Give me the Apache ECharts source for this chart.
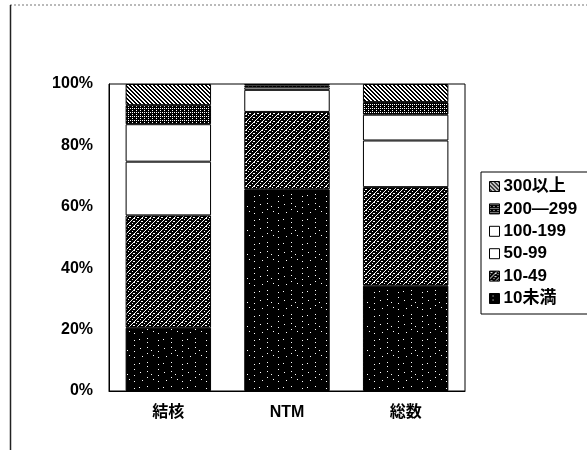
<!DOCTYPE html>
<html>
<head>
<meta charset="utf-8">
<script src="https://cdn.jsdelivr.net/npm/echarts@6/dist/echarts.min.js"></script>
<style>
  html, body { margin: 0; padding: 0; background: #fff; }
  #chart { width: 587px; height: 450px; }
</style>
</head>
<body>
<div id="chart"></div>
<script>
// Categories along the x axis
const categories = ['結核', 'NTM', '総数'];

// Share (%) of each size class, stacked bottom to top
const seriesNames = ['10未満', '10-49', '50-99', '100-199', '200-299', '300以上'];
const share10under  = [20.6, 65.7, 34.3];
const share10to49   = [36.6, 25.2, 32.1];
const share50to99   = [17.5,  7.2, 15.2];
const share100to199 = [12.2,  0.8,  8.4];
const share200to299 = [ 6.2,  0.6,  4.1];
const share300over  = [ 6.9,  0.5,  5.9];
const seriesValues = [share10under, share10to49, share50to99, share100to199, share200to299, share300over];

// Legend order, top to bottom, and the label drawn for each entry
const legendOrder = ['300以上', '200-299', '100-199', '50-99', '10-49', '10未満'];
const legendText = { '10-49': '10‐49', '50-99': '50‐99', '100-199': '100‐199', '200-299': '200—299' };

// Monochrome fill patterns built on small canvases
function pattern(size, bg, whitePixels, draw) {
  const c = document.createElement('canvas');
  c.width = size; c.height = size;
  const g = c.getContext('2d');
  g.fillStyle = bg; g.fillRect(0, 0, size, size);
  g.fillStyle = '#fff';
  (whitePixels || []).forEach(([x, y]) => g.fillRect(x, y, 1, 1));
  if (draw) draw(g, size);
  return { image: c, repeat: 'repeat' };
}

const fillDark = pattern(24, '#000', [[3,2],[3,6],[3,11],[3,17],[14,4],[14,9],[14,15],[14,21],[9,19],[20,12],[7,14],[19,3],[22,20]]);
const fillMottled = (function () {
  const px = [];
  for (let i = 0; i < 8; i++) { px.push([i, 7 - i]); }
  for (let i = 0; i < 8; i += 2) { px.push([i, (11 - i) % 8]); }
  px.push([1,1],[5,5],[6,2]);
  return pattern(8, '#000', px);
})();
const fillWhite = '#fff';
const fillGrid = pattern(4, '#000', [[0,0],[2,0],[0,2]]);
const fillHatch = pattern(4, '#fff', [], function (g, s) {
  g.fillStyle = '#000';
  for (let i = 0; i < s; i++) { g.fillRect(i, i, 2, 1); g.fillRect(i - s, i, 2, 1); }
});
const fills = [fillDark, fillMottled, fillWhite, fillWhite, fillGrid, fillHatch];

const chart = echarts.init(document.getElementById('chart'), null, { renderer: 'canvas' });

const textFont = "'Liberation Sans', 'Noto Sans CJK JP', sans-serif";

chart.setOption({
  animation: false,
  backgroundColor: '#fff',
  grid: { left: 109, top: 84, right: 122, bottom: 59, show: true, borderColor: '#000', borderWidth: 1, backgroundColor: 'transparent' },
  xAxis: {
    type: 'category',
    data: categories,
    axisLine: { lineStyle: { color: '#000', width: 1 } },
    axisTick: { show: false },
    axisLabel: { color: '#000', fontSize: 16, fontWeight: 'bold', fontFamily: textFont, margin: 14 }
  },
  yAxis: {
    type: 'value',
    min: 0, max: 100, interval: 20,
    axisLine: { show: true, lineStyle: { color: '#000', width: 1 } },
    axisTick: { show: false },
    splitLine: { show: false },
    axisLabel: { color: '#000', fontSize: 16, fontWeight: 'bold', fontFamily: textFont, margin: 16, formatter: '{value}%' }
  },
  legend: {
    orient: 'vertical',
    left: 481, top: 172,
    padding: [6, 30, 7, 8],
    itemWidth: 10, itemHeight: 10, itemGap: 5.4,
    borderColor: '#000', borderWidth: 1,
    icon: 'rect',
    data: legendOrder,
    formatter: name => legendText[name] || name,
    itemStyle: { borderColor: '#000', borderWidth: 1 },
    textStyle: { color: '#000', fontSize: 17, lineHeight: 17, fontWeight: 'bold', fontFamily: textFont, padding: [0, 0, 0, -1] }
  },
  graphic: [
    { type: 'line', shape: { x1: 10, y1: 5, x2: 587, y2: 5 }, style: { stroke: '#777', lineWidth: 1, lineDash: [2, 2] } },
    { type: 'line', shape: { x1: 10.5, y1: 5, x2: 10.5, y2: 450 }, style: { stroke: '#222', lineWidth: 1.5 } }
  ],
  series: seriesNames.map((name, i) => ({
    name: name,
    type: 'bar',
    stack: 'total',
    barWidth: '72%',
    data: seriesValues[i],
    itemStyle: { color: fills[i], borderColor: '#000', borderWidth: 1 }
  }))
});
</script>
</body>
</html>
